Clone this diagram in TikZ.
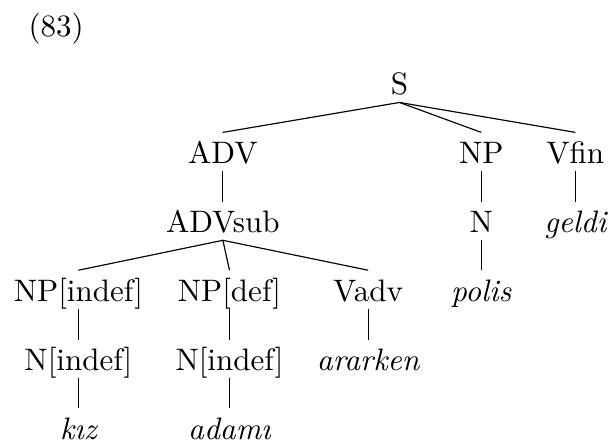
\documentclass[tikz,border=0pt]{standalone}
\begin{document}
\tikzset{cat/.style={inner sep=0pt, text height=10.5pt, text depth=2.4pt, anchor=base,
    font=\fontsize{10.7}{13}\selectfont},
  word/.style={cat, font=\fontsize{10.7}{13}\selectfont\itshape}}
\begin{tikzpicture}
\useasboundingbox (0, 0) rectangle (7.39, 5.35);
\node (ex)[cat] at (0.68, 4.91) {(83)};
\node (s)[cat] at (4.84, 4.2) {S};
\node (adv)[cat] at (2.70, 3.37) {ADV};
\node (np)[cat] at (5.83, 3.37) {NP};
\node (vfin)[cat] at (6.97, 3.37) {Vfin};
\node (advsub)[cat] at (2.70, 2.53) {ADVsub};
\node (n)[cat] at (5.83, 2.53) {N};
\node (geldi)[word] at (6.97, 2.53) {geldi};
\node (npindef)[cat] at (0.95, 1.70) {NP[indef]};
\node (npdef)[cat] at (2.78, 1.70) {NP[def]};
\node (vadv)[cat] at (4.46, 1.70) {Vadv};
\node (polis)[word] at (5.83, 1.70) {polis};
\node (nindefa)[cat] at (0.95, 0.86) {N[indef]};
\node (nindefb)[cat] at (2.78, 0.86) {N[indef]};
\node (ararken)[word] at (4.46, 0.86) {ararken};
\node (kiz)[word] at (0.95, 0.03) {k\i z};
\node (adami)[word] at (2.78, 0.03) {adam\i};
\draw (s.south) -- (adv.north);
\draw (s.south) -- (np.north);
\draw (s.south) -- (vfin.north);
\draw (adv.south) -- (advsub.north);
\draw (np.south) -- (n.north);
\draw (vfin.south) -- (geldi.north);
\draw (advsub.south) -- (npindef.north);
\draw (advsub.south) -- (npdef.north);
\draw (advsub.south) -- (vadv.north);
\draw (n.south) -- (polis.north);
\draw (npindef.south) -- (nindefa.north);
\draw (npdef.south) -- (nindefb.north);
\draw (vadv.south) -- (ararken.north);
\draw (nindefa.south) -- (kiz.north);
\draw (nindefb.south) -- (adami.north);
\end{tikzpicture}
\end{document}
